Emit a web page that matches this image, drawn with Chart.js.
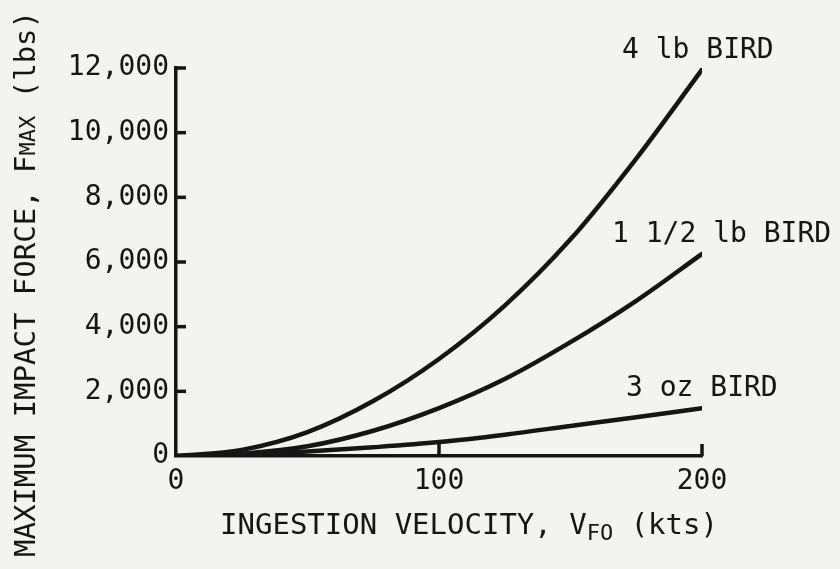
<!DOCTYPE html>
<html>
<head>
<meta charset="utf-8">
<script src="https://cdn.jsdelivr.net/npm/chart.js@4"></script>
<style>
    html, body { margin: 0; padding: 0; background: #f3f3f1; }
    #wrap { width: 840px; height: 569px; }
</style>
</head>
<body>
<div id="wrap"><canvas id="forceChart" width="840" height="569"></canvas></div>
<script>
// Ingestion velocity (kts) and peak impact force (lbs) per bird size
const velocity = [0, 25, 50, 75, 100, 125, 150, 175, 200];
const force4lb = [0, 190, 740, 1700, 3000, 4650, 6700, 9200, 11950];
const force1half = [0, 70, 300, 780, 1480, 2380, 3520, 4800, 6250];
const force3oz = [0, 40, 140, 270, 430, 660, 930, 1200, 1480];

const seriesLabels = ['4 lb BIRD', '1 1/2 lb BIRD', '3 oz BIRD'];
const xTicks = [0, 100, 200];
const yTicks = [0, 2000, 4000, 6000, 8000, 10000, 12000];

const ink = '#151515';
const mono = '"DejaVu Sans Mono", monospace';

function toPoints(values) {
    return velocity.map((v, i) => ({ x: v, y: values[i] }));
}

function lineSet(label, values) {
    return {
        label: label,
        data: toPoints(values),
        borderColor: ink,
        borderWidth: 4.5,
        borderCapStyle: 'round',
        pointRadius: 0,
        fill: false,
        cubicInterpolationMode: 'monotone'
    };
}

// paper background, inside tick marks, end labels and axis titles
const decorations = {
    id: 'decorations',
    beforeDraw(chart) {
        const ctx = chart.ctx;
        ctx.save();
        ctx.fillStyle = '#f3f3f1';
        ctx.fillRect(0, 0, chart.width, chart.height);
        ctx.restore();
    },
    afterDraw(chart) {
        const ctx = chart.ctx;
        const xs = chart.scales.x;
        const ys = chart.scales.y;
        const area = chart.chartArea;
        ctx.save();
        ctx.strokeStyle = ink;
        ctx.fillStyle = ink;
        ctx.lineWidth = 3.5;

        yTicks.slice(1).forEach(v => {
            const py = ys.getPixelForValue(v);
            ctx.beginPath();
            ctx.moveTo(area.left, py);
            ctx.lineTo(area.left + 10, py);
            ctx.stroke();
        });
        xTicks.slice(1).forEach(v => {
            const px = xs.getPixelForValue(v);
            ctx.beginPath();
            ctx.moveTo(px, area.bottom);
            ctx.lineTo(px, area.bottom - 12);
            ctx.stroke();
        });

        // curve names sit just above each curve's end
        const shifts = [-80, -90, -76];
        ctx.font = '28px ' + mono;
        ctx.textAlign = 'left';
        ctx.textBaseline = 'middle';
        chart.data.datasets.forEach((ds, i) => {
            const last = ds.data[ds.data.length - 1];
            const px = xs.getPixelForValue(last.x);
            const py = ys.getPixelForValue(last.y);
            ctx.fillText(seriesLabels[i], px + shifts[i], py - 19);
        });

        // x title with subscript
        const big = '29px ' + mono;
        const small = '22px ' + mono;
        const xParts = [['INGESTION VELOCITY, V', big, 0], ['FO', small, 8], [' (kts)', big, 0]];
        drawParts(ctx, xParts, 469, 526);

        // y title, rotated
        ctx.translate(27, 284);
        ctx.rotate(-Math.PI / 2);
        const yParts = [['MAXIMUM IMPACT FORCE, F', big, 0], ['MAX', small, 2], [' (lbs)', big, 0]];
        drawParts(ctx, yParts, 0, 0);
        ctx.restore();
    }
};

function drawParts(ctx, parts, cx, cy) {
    let total = 0;
    parts.forEach(p => { ctx.font = p[1]; total += ctx.measureText(p[0]).width; });
    let x = cx - total / 2;
    ctx.textAlign = 'left';
    ctx.textBaseline = 'middle';
    parts.forEach(p => {
        ctx.font = p[1];
        ctx.fillText(p[0], x, cy + p[2]);
        x += ctx.measureText(p[0]).width;
    });
}

const ctx = document.getElementById('forceChart').getContext('2d');
const forceChart = new Chart(ctx, {
    type: 'line',
    data: {
        datasets: [
            lineSet(seriesLabels[0], force4lb),
            lineSet(seriesLabels[1], force1half),
            lineSet(seriesLabels[2], force3oz)
        ]
    },
    options: {
        responsive: false,
        animation: false,
        layout: { padding: { left: 0, top: 68, right: 138, bottom: 0 } },
        plugins: {
            legend: { display: false },
            tooltip: { enabled: false }
        },
        scales: {
            x: {
                type: 'linear',
                min: 0,
                max: 200,
                afterBuildTicks: scale => { scale.ticks = xTicks.map(v => ({ value: v })); },
                afterFit: scale => { scale.height = 113; },
                grid: { display: false, drawTicks: false },
                border: { display: true, color: ink, width: 3.5 },
                ticks: {
                    color: ink,
                    padding: 9,
                    maxRotation: 0,
                    font: { family: mono, size: 28 },
                    callback: value => String(value)
                }
            },
            y: {
                type: 'linear',
                min: 0,
                max: 12000,
                afterBuildTicks: scale => { scale.ticks = yTicks.map(v => ({ value: v })); },
                afterFit: scale => { scale.width = 176; },
                grid: { display: false, drawTicks: false },
                border: { display: true, color: ink, width: 3.5 },
                ticks: {
                    color: ink,
                    padding: 7,
                    font: { family: mono, size: 28 },
                    callback: value => value.toLocaleString('en-US')
                }
            }
        }
    },
    plugins: [decorations]
});
</script>
</body>
</html>
